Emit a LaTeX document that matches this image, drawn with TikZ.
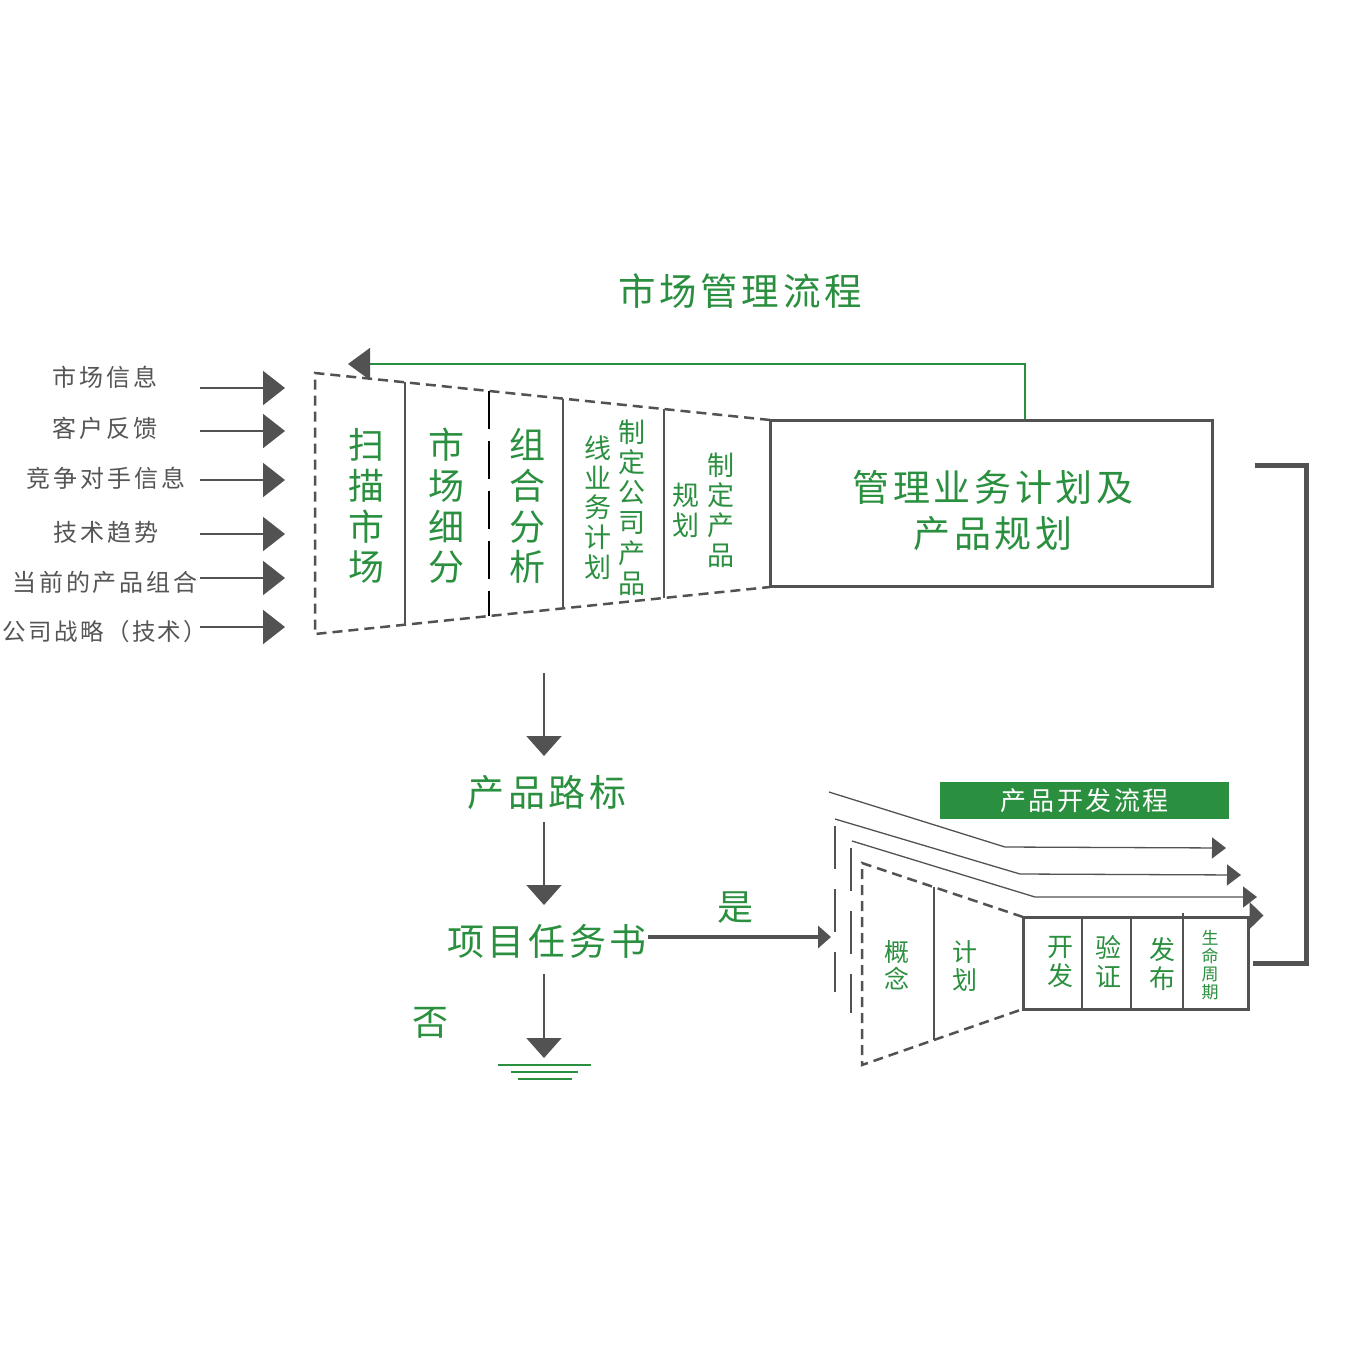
\documentclass[tikz,border=0pt]{standalone}
\usepackage{fontspec}
\setmainfont{Noto Sans CJK SC}
\newfontfamily\spc[LetterSpace=10]{Noto Sans CJK SC}
\newfontfamily\spcl[LetterSpace=12]{Noto Sans CJK SC}
\usetikzlibrary{arrows.meta}
\definecolor{mgreen}{RGB}{42,143,62}
\definecolor{mgray}{RGB}{82,82,82}
\definecolor{lgray}{RGB}{85,85,85}
\begin{document}
\begin{tikzpicture}[x=1pt,y=-1pt,
  gt/.style={text=mgreen, inner sep=0pt, align=center},
  lbl/.style={text=lgray, inner sep=0pt, font=\spcl\fontsize{24}{28}\selectfont},
  solidline/.style={draw=mgray, line width=2pt},
  thinline/.style={draw=mgray, line width=1.3pt},
  dashedge/.style={draw=mgray, line width=2.5pt, dash pattern=on 10pt off 6pt},
  longdash/.style={draw=mgray, line width=2.5pt, dash pattern=on 43pt off 20pt},
  inarrow/.style={draw=mgray, line width=2pt, -{Triangle[length=22pt,width=34pt]}},
  downarrow/.style={draw=mgray, line width=2pt, -{Triangle[length=20pt,width=35pt]}},
  smallarrow/.style={draw=mgray, line width=1.3pt, -{Triangle[length=14pt,width=21pt]}},
  boxline/.style={draw=mgray, line width=3pt},
  groundline/.style={draw=mgreen, line width=1.5pt}
]
\useasboundingbox (0,0) rectangle (1352,1350);
\fill[white] (0,0) rectangle (1352,1350);

% ---------- title ----------
\node[gt, font=\spc\fontsize{37.5}{40}\selectfont] (title) at (740,291) {市场管理流程};

% ---------- left inputs ----------
\node[lbl] (l1) at (105,377) {市场信息};
\node[lbl] (l2) at (105,428) {客户反馈};
\node[lbl] (l3) at (106,478) {竞争对手信息};
\node[lbl] (l4) at (106,532) {技术趋势};
\node[lbl] (l5) at (105,582) {当前的产品组合};
\node[lbl, font=\spc\fontsize{23.5}{28}\selectfont] (l6) at (105,632) {公司战略（技术）};
\foreach \i/\y in {1/388,2/431,3/480,4/534,5/578,6/627}{
  \coordinate (s\i) at (200,\y);
  \coordinate (e\i) at (285,\y);
  \draw[inarrow] (s\i) -- (e\i);
}

% ---------- top funnel ----------
\coordinate (ftl) at (315,373);
\coordinate (ftr) at (770,420);
\coordinate (fbr) at (770,587);
\coordinate (fbl) at (315,634);
\draw[dashedge] (ftr) -- (ftl) -- (fbl) -- (fbr);
\draw[solidline] (405,382.3) -- (405,624.7);
\draw[draw=black, line width=2.5pt, dash pattern=on 38pt off 12pt] (489,391) -- (489,616);
\draw[solidline] (563,398.6) -- (563,608.4);
\draw[solidline] (664,409.1) -- (664,597.9);

\node[gt, font=\fontsize{36}{40.7}\selectfont] (c1) at (366,506) {扫\\描\\市\\场};
\node[gt, font=\fontsize{36}{40.7}\selectfont] (c2) at (446,506) {市\\场\\细\\分};
\node[gt, font=\fontsize{36}{40.7}\selectfont] (c3) at (527,506) {组\\合\\分\\析};
\node[gt, font=\fontsize{27}{29.8}\selectfont] (c4a) at (598,507.5) {线\\业\\务\\计\\划};
\node[gt, font=\fontsize{27}{30.2}\selectfont] (c4b) at (632,507.5) {制\\定\\公\\司\\产\\品};
\node[gt, font=\fontsize{27}{30}\selectfont] (c5a) at (686,510) {规\\划};
\node[gt, font=\fontsize{27}{30}\selectfont] (c5b) at (721,510) {制\\定\\产\\品};

% ---------- plan box ----------
\node[boxline, minimum width=442pt, minimum height=166pt, inner sep=0pt] (plan) at (991,503) {};
\node[gt, font=\spc\fontsize{37}{46}\selectfont] (plantext) at (993,510) {管理业务计划及\\产品规划};

% green feedback connector
\coordinate (fbtop) at (1025,364);
\coordinate (fbtip) at (348,364);
\draw[draw=mgreen, line width=1.3pt, -{Triangle[length=22pt,width=32pt,color=mgray]}]
  (plan.north -| fbtop) -- (fbtop) -- (fbtip);

% ---------- center flow ----------
\coordinate (a1s) at (544,673);
\node[gt, font=\spc\fontsize{37}{40}\selectfont] (road) at (547,793) {产品路标};
\node[gt, font=\spc\fontsize{37}{40}\selectfont] (task) at (547,941) {项目任务书};
\draw[downarrow] (a1s) -- (544,756);
\draw[downarrow] (544,822) -- (544,905);
\coordinate (gnd) at (544,1058);
\draw[downarrow] (544,974) -- (gnd);
\draw[groundline] (498,1065) -- (591,1065);
\draw[groundline] (511,1072) -- (578,1072);
\draw[groundline] (518,1079) -- (572,1079);
\node[gt, font=\fontsize{36}{40}\selectfont] (no) at (430,1023) {否};
\node[gt, font=\fontsize{36}{40}\selectfont] (yes) at (735,908) {是};
\coordinate (yesend) at (831,937);
\draw[draw=mgray, line width=4pt, -{Triangle[length=13pt,width=22pt]}] (648,937) -- (yesend);

% ---------- product development funnel ----------
\draw[longdash] (835,826) -- (835,992);
\draw[longdash] (851,848) -- (851,1013);
\coordinate (ptl) at (862,863);
\coordinate (ptr) at (1023,917);
\coordinate (pbr) at (1023,1009);
\coordinate (pbl) at (862,1065);
\draw[dashedge] (ptr) -- (ptl) -- (pbl) -- (pbr);
\draw[draw=mgray, line width=1.5pt] (934,887) -- (934,1040);

\node[boxline, minimum width=225pt, minimum height=92pt, inner sep=0pt] (dev) at (1135.5,963) {};
\draw[draw=mgray, line width=1.5pt] (1082,917) -- (1082,1009);
\draw[draw=mgray, line width=1.5pt] (1131,917) -- (1131,1009);
\draw[draw=mgray, line width=1.5pt] (1183,913) -- (1183,1009);

\node[gt, font=\fontsize{25}{27}\selectfont] (p1) at (897,965) {概\\念};
\node[gt, font=\fontsize{25}{28}\selectfont] (p2) at (965,966) {计\\划};
\node[gt, font=\fontsize{26}{29}\selectfont] (p3) at (1060,962) {开\\发};
\node[gt, font=\fontsize{26}{29}\selectfont] (p4) at (1108,962) {验\\证};
\node[gt, font=\fontsize{26}{29}\selectfont] (p5) at (1162,964) {发\\布};
\node[gt, font=\fontsize{17}{18.2}\selectfont] (p6) at (1210,965) {生\\命\\周\\期};

\node[fill=mgreen, text=white, minimum width=289pt, minimum height=37pt, inner sep=0pt,
      font=\spc\fontsize{26}{30}\selectfont] (devtitle) at (1084.5,800.5) {产品开发流程};

\draw[smallarrow] (829,792) -- (1005,847) -- (1226,848);
\draw[smallarrow] (835,819) -- (1020,874) -- (1241,875);
\draw[smallarrow] (852,841) -- (1035,897) -- (1257,897);
\draw[draw=mgray, line width=1.3pt, -{Triangle[length=14pt,width=27pt]}] (dev.north east) -- ++(14,0);

% ---------- right bracket ----------
\draw[draw=mgray, line width=5pt] (1255,465) -- (1306,465) -- (1306,963) -- (dev.east -| 1253,0);
\end{tikzpicture}
\end{document}
